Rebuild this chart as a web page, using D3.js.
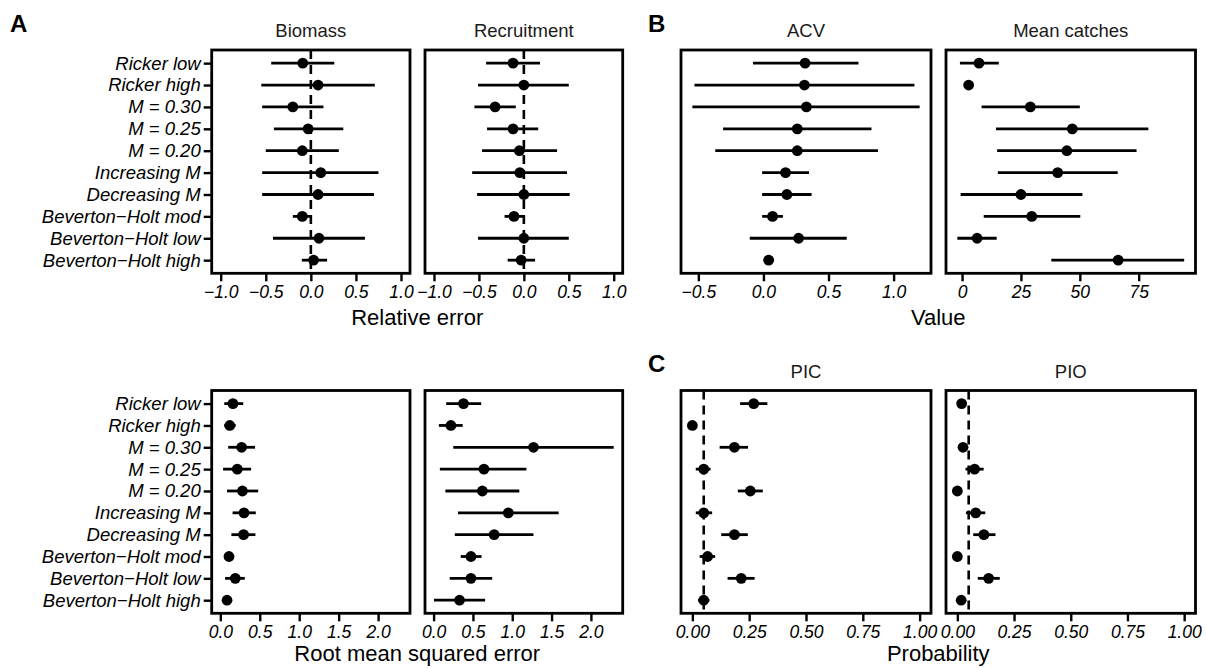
<!DOCTYPE html>
<html>
<head>
<meta charset="utf-8">
<script src="https://cdn.jsdelivr.net/npm/d3@7"></script>
<style>
  body { margin: 0; background: #fff; }
  svg text { font-family: "Liberation Sans", Arial, sans-serif; }
</style>
</head>
<body>
<svg id="chart" width="1207" height="668"></svg>
<script>
// scenario labels, top to bottom
var scenarios = ['Ricker low', 'Ricker high', 'M = 0.30', 'M = 0.25', 'M = 0.20',
  'Increasing M', 'Decreasing M', 'Beverton\u2212Holt mod', 'Beverton\u2212Holt low', 'Beverton\u2212Holt high'];

// every series: [estimate, lower, upper], same order as scenarios
var biomassRelErr = [[-0.09, -0.44, 0.26], [0.08, -0.55, 0.71], [-0.20, -0.54, 0.14], [-0.03, -0.41, 0.36],
  [-0.095, -0.50, 0.31], [0.11, -0.54, 0.75], [0.08, -0.54, 0.70], [-0.095, -0.20, 0.0],
  [0.09, -0.42, 0.60], [0.03, -0.10, 0.18]];
var recruitRelErr = [[-0.12, -0.42, 0.18], [0.0, -0.51, 0.50], [-0.32, -0.55, -0.09], [-0.12, -0.41, 0.16],
  [-0.05, -0.465, 0.37], [-0.045, -0.575, 0.48], [0.0, -0.52, 0.51], [-0.11, -0.215, 0.008],
  [0.0, -0.51, 0.50], [-0.03, -0.18, 0.125]];

var biomassRmse = [[0.16, 0.05, 0.29], [0.12, 0.05, 0.195], [0.27, 0.10, 0.44], [0.215, 0.035, 0.39],
  [0.28, 0.085, 0.48], [0.30, 0.155, 0.45], [0.295, 0.14, 0.445], [0.11, 0.095, 0.125],
  [0.19, 0.06, 0.31], [0.085, 0.075, 0.10]];
var recruitRmse = [[0.38, 0.16, 0.605], [0.22, 0.067, 0.37], [1.27, 0.25, 2.29], [0.64, 0.08, 1.18],
  [0.62, 0.15, 1.09], [0.95, 0.31, 1.59], [0.77, 0.27, 1.27], [0.475, 0.345, 0.61],
  [0.475, 0.205, 0.745], [0.33, 0.005, 0.655]];

var acv = [[0.32, -0.08, 0.73], [0.315, -0.53, 1.16], [0.33, -0.546, 1.20], [0.26, -0.31, 0.83],
  [0.26, -0.37, 0.88], [0.17, -0.01, 0.35], [0.18, -0.01, 0.37], [0.07, -0.01, 0.15],
  [0.27, -0.105, 0.64], [0.04, 0.01, 0.08]];
var meanCatches = [[7.2, -0.9, 15.6], [2.8, 2.0, 3.5], [29, 8.3, 50], [46.8, 14.4, 79.1],
  [44.5, 14.9, 74.1], [40.6, 15.2, 66.1], [25, -0.6, 51.1], [29.6, 9.2, 50.2],
  [6.4, -2.0, 14.7], [66.3, 37.9, 94.3]];

var pic = [[0.27, 0.21, 0.33], [0.0, 0.0, 0.0], [0.185, 0.12, 0.245], [0.05, 0.015, 0.08],
  [0.255, 0.20, 0.31], [0.05, 0.015, 0.087], [0.185, 0.127, 0.244], [0.067, 0.032, 0.10],
  [0.215, 0.155, 0.274], [0.05, 0.025, 0.075]];
var pio = [[0.019, 0.012, 0.026], null, [0.025, 0.008, 0.047], [0.076, 0.036, 0.116],
  [0.0, 0.0, 0.0], [0.081, 0.038, 0.123], [0.117, 0.07, 0.168], [0.0, 0.0, 0.0],
  [0.138, 0.09, 0.187], [0.017, 0.01, 0.025]];

var relErrTicks = [-1, -0.5, 0, 0.5, 1];
var rmseTicks = [0, 0.5, 1, 1.5, 2];
var acvTicks = [-0.5, 0, 0.5, 1];
var catchTicks = [0, 25, 50, 75];
var probTicks = [0, 0.25, 0.5, 0.75, 1];

var svg = d3.select('#chart');

// ggplot-style 5% expansion of the data range
function expand(data) {
  var vals = [];
  data.forEach(function(d) { if (d) { vals.push(d[1], d[2]); } });
  var ext = d3.extent(vals);
  var pad = (ext[1] - ext[0]) * 0.05;
  return [ext[0] - pad, ext[1] + pad];
}

function drawPanel(o) {
  var x = d3.scaleLinear().domain(o.domain).range([o.x0, o.x1]);
  var y = d3.scalePoint().domain(scenarios).range([o.y0, o.y1]).padding(0.6);
  var g = svg.append('g');

  if (o.ref != null) {
    g.append('line')
      .attr('x1', x(o.ref)).attr('x2', x(o.ref))
      .attr('y1', o.y0).attr('y2', o.y1)
      .attr('stroke', '#000').attr('stroke-width', 2.6)
      .attr('stroke-dasharray', '9,6');
  }

  var rows = o.data.map(function(d, i) { return { s: scenarios[i], v: d }; })
    .filter(function(r) { return r.v; });

  g.selectAll('line.bar').data(rows).enter().append('line')
    .attr('class', 'bar')
    .attr('x1', function(r) { return x(r.v[1]); })
    .attr('x2', function(r) { return x(r.v[2]); })
    .attr('y1', function(r) { return y(r.s); })
    .attr('y2', function(r) { return y(r.s); })
    .attr('stroke', '#000').attr('stroke-width', 2.8);

  g.selectAll('circle').data(rows).enter().append('circle')
    .attr('cx', function(r) { return x(r.v[0]); })
    .attr('cy', function(r) { return y(r.s); })
    .attr('r', 5.4)
    .attr('fill', '#000');

  // panel border
  g.append('rect')
    .attr('x', o.x0).attr('y', o.y0)
    .attr('width', o.x1 - o.x0).attr('height', o.y1 - o.y0)
    .attr('fill', 'none').attr('stroke', '#000').attr('stroke-width', 2.8);

  var ax = g.append('g')
    .attr('transform', 'translate(0,' + o.y1 + ')')
    .call(d3.axisBottom(x).tickValues(o.ticks).tickFormat(d3.format(o.fmt))
      .tickSize(8).tickSizeOuter(0).tickPadding(4));
  ax.select('.domain').remove();
  ax.selectAll('line').attr('stroke', '#000').attr('stroke-width', 2.4);
  ax.selectAll('text')
    .attr('fill', '#000').attr('font-size', 17.5).attr('font-style', 'italic')
    .style('font-family', '"Liberation Sans", Arial, sans-serif');

  if (o.yLabels) {
    var ay = g.append('g')
      .attr('transform', 'translate(' + o.x0 + ',0)')
      .call(d3.axisLeft(y).tickSize(8).tickSizeOuter(0).tickPadding(3));
    ay.select('.domain').remove();
    ay.selectAll('line').attr('stroke', '#000').attr('stroke-width', 2.4);
    ay.selectAll('text')
      .attr('fill', '#000').attr('font-size', 18.5).attr('font-style', 'italic')
      .style('font-family', '"Liberation Sans", Arial, sans-serif');
  }

  g.append('text')
    .attr('x', (o.x0 + o.x1) / 2).attr('y', o.y0 - 12.7)
    .attr('text-anchor', 'middle').attr('font-size', 18.5).attr('fill', '#1a1a1a')
    .text(o.title);
}

function axisTitle(label, x0, x1, yBase) {
  svg.append('text')
    .attr('x', (x0 + x1) / 2).attr('y', yBase)
    .attr('text-anchor', 'middle').attr('font-size', 22).attr('fill', '#000')
    .text(label);
}

function tag(label, x, y) {
  svg.append('text').attr('x', x).attr('y', y)
    .attr('font-size', 24).attr('font-weight', 'bold').attr('fill', '#000')
    .text(label);
}

var topY0 = 50, topY1 = 273.3, botY0 = 390.5, botY1 = 613.3;

// A: relative error
drawPanel({ title: 'Biomass', data: biomassRelErr, domain: [-1.1, 1.1], ticks: relErrTicks, fmt: '.1f',
  x0: 211.7, x1: 410, y0: topY0, y1: topY1, ref: 0, yLabels: true });
drawPanel({ title: 'Recruitment', data: recruitRelErr, domain: [-1.1, 1.1], ticks: relErrTicks, fmt: '.1f',
  x0: 425, x1: 622.7, y0: topY0, y1: topY1, ref: 0 });
axisTitle('Relative error', 211.7, 622.7, 325);

// RMSE
var rmseDomain = expand(biomassRmse.concat(recruitRmse));
drawPanel({ title: '', data: biomassRmse, domain: rmseDomain, ticks: rmseTicks, fmt: '.1f',
  x0: 211.7, x1: 410, y0: botY0, y1: botY1, yLabels: true });
drawPanel({ title: '', data: recruitRmse, domain: rmseDomain, ticks: rmseTicks, fmt: '.1f',
  x0: 425, x1: 622.7, y0: botY0, y1: botY1 });
axisTitle('Root mean squared error', 211.7, 622.7, 661);

// B: performance values (free x scales)
drawPanel({ title: 'ACV', data: acv, domain: expand(acv), ticks: acvTicks, fmt: '.1f',
  x0: 681, x1: 931, y0: topY0, y1: topY1 });
drawPanel({ title: 'Mean catches', data: meanCatches, domain: expand(meanCatches), ticks: catchTicks, fmt: 'd',
  x0: 946, x1: 1195.5, y0: topY0, y1: topY1 });
axisTitle('Value', 681, 1195.5, 325);

// C: probabilities
drawPanel({ title: 'PIC', data: pic, domain: [-0.05, 1.05], ticks: probTicks, fmt: '.2f',
  x0: 681, x1: 931, y0: botY0, y1: botY1, ref: 0.05 });
drawPanel({ title: 'PIO', data: pio, domain: [-0.05, 1.05], ticks: probTicks, fmt: '.2f',
  x0: 946, x1: 1195.5, y0: botY0, y1: botY1, ref: 0.05 });
axisTitle('Probability', 681, 1195.5, 661);

tag('A', 10, 32.3);
tag('B', 648, 32.3);
tag('C', 648, 372);
</script>
</body>
</html>
